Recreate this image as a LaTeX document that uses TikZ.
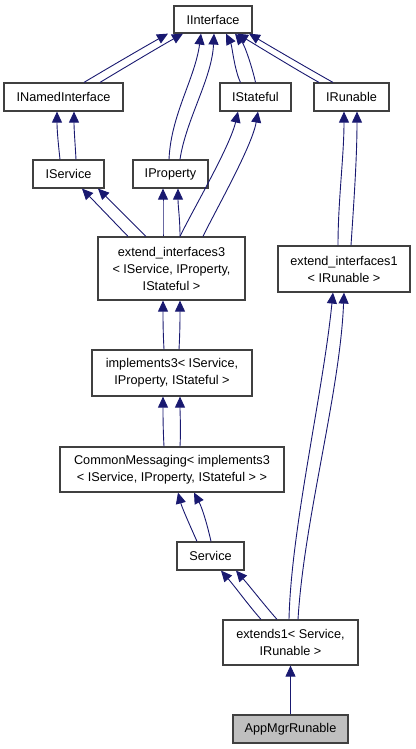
\documentclass[tikz,border=0pt]{standalone}
\usepackage{fontspec}
\setmainfont{Liberation Sans}
\usetikzlibrary{arrows.meta}
\definecolor{edgeblue}{RGB}{25,25,112}
\definecolor{boxline}{RGB}{64,64,64}
\definecolor{curfill}{RGB}{191,191,191}

\begin{document}
\begin{tikzpicture}[x=1pt, y=1pt,
        cls/.style={draw=boxline, fill=white, line width=1.2pt, inner sep=0pt, align=center,
                    minimum height=28pt, font=\fontsize{12.7}{17}\selectfont},
        cur/.style={cls, fill=curfill},
        inh/.style={edgeblue, line width=0.9pt, -{Triangle[length=11pt, width=10pt]}}]
        \useasboundingbox (0,0) rectangle (415,-749);

        \node[cls, minimum width=78pt, minimum height=27pt] (iface) at (213,-19.5) {IInterface};
        \node[cls, minimum width=119pt] (named) at (63.5,-97) {INamedInterface};
        \node[cls, minimum width=71pt] (stateful) at (255.5,-97) {IStateful};
        \node[cls, minimum width=75pt] (runable) at (351.5,-97) {IRunable};
        \node[cls, minimum width=71pt] (iservice) at (68.5,-174) {IService};
        \node[cls, minimum width=75pt] (property) at (170.5,-174) {IProperty};
        \node[cls, minimum width=147pt, minimum height=63pt] (ext3) at (171.5,-268.5) {extend\_interfaces3\\< IService, IProperty,\\IStateful >};
        \node[cls, minimum width=132pt, minimum height=46pt] (ext1) at (344,-269) {extend\_interfaces1\\< IRunable >};
        \node[cls, minimum width=160pt, minimum height=46pt] (impl3) at (172,-373) {implements3< IService,\\IProperty, IStateful >};
        \node[cls, minimum width=224pt, minimum height=45pt] (common) at (172,-469.5) {CommonMessaging< implements3\\< IService, IProperty, IStateful > >};
        \node[cls, minimum width=67pt] (service) at (210.5,-556) {Service};
        \node[cls, minimum width=135pt, minimum height=45pt] (extends1) at (290.5,-642.5) {extends1< Service,\\IRunable >};
        \node[cur, minimum width=115pt] (app) at (290.5,-729) {AppMgrRunable};

        % first level
        \draw[inh] ([xshift=20.5]named.north) .. controls +(20,12) and +(-25,-14) .. ([xshift=-45]iface.south);
        \draw[inh] ([xshift=36.5]named.north) .. controls +(20,12) and +(-25,-14) .. ([xshift=-30]iface.south);
        \draw[inh] ([xshift=-1.5]property.north) .. controls +(2,45) and +(-6,-45) .. ([xshift=-12]iface.south);
        \draw[inh] ([xshift=9.5]property.north) .. controls +(6,40) and +(-2,-45) .. ([xshift=1]iface.south);
        \draw[inh] ([xshift=-15]stateful.north) .. controls +(-6,12) and +(6,-12) .. ([xshift=13]iface.south);
        \draw[inh] ([xshift=0]stateful.north) .. controls +(-3,14) and +(10,-12) .. ([xshift=22]iface.south);
        \draw[inh] ([xshift=-32.5]runable.north) .. controls +(-25,14) and +(20,-12) .. ([xshift=24]iface.south);
        \draw[inh] ([xshift=-18.5]runable.north) .. controls +(-25,14) and +(20,-12) .. ([xshift=36]iface.south);

        % second level
        \draw[inh] ([xshift=-8.5]iservice.north) .. controls +(-2,18) and +(0,-18) .. ([xshift=-6.5]named.south);
        \draw[inh] ([xshift=7.5]iservice.north) .. controls +(-1,18) and +(0,-18) .. ([xshift=10.5]named.south);
        \draw[inh] ([xshift=-6]ext1.north) .. controls +(0,45) and +(0,-45) .. ([xshift=-7.5]runable.south);
        \draw[inh] ([xshift=7]ext1.north) .. controls +(3,45) and +(0,-45) .. ([xshift=5.5]runable.south);

        % extend_interfaces3
        \draw[inh] ([xshift=-43.5]ext3.north) -- ([xshift=13.5]iservice.south);
        \draw[inh] ([xshift=-25.5]ext3.north) -- ([xshift=29.5]iservice.south);
        \draw[inh] ([xshift=-8.5]ext3.north) .. controls +(0,18) and +(0,-18) .. ([xshift=-7.5]property.south);
        \draw[inh] ([xshift=8.5]ext3.north) .. controls +(0,18) and +(0,-18) .. ([xshift=7.5]property.south);
        \draw[inh] ([xshift=8.5]ext3.north) .. controls +(12,25) and +(-8,-35) .. ([xshift=-17.5]stateful.south);
        \draw[inh] ([xshift=31.5]ext3.north) .. controls +(12,25) and +(-6,-35) .. ([xshift=2.5]stateful.south);

        % chain down
        \draw[inh] ([xshift=-8]impl3.north) .. controls +(-1,18) and +(0,-18) .. ([xshift=-8.5]ext3.south);
        \draw[inh] ([xshift=7]impl3.north) .. controls +(1,18) and +(0,-18) .. ([xshift=8.5]ext3.south);
        \draw[inh] ([xshift=-8]common.north) .. controls +(-1,18) and +(0,-18) .. ([xshift=-9]impl3.south);
        \draw[inh] ([xshift=8]common.north) .. controls +(1,18) and +(0,-18) .. ([xshift=8]impl3.south);
        \draw[inh] ([xshift=-13.5]service.north) .. controls +(-8,18) and +(4,-15) .. ([xshift=6]common.south);
        \draw[inh] ([xshift=0.5]service.north) .. controls +(-4,18) and +(8,-15) .. ([xshift=22]common.south);
        \draw[inh] ([xshift=-29.5]extends1.north) .. controls +(-14,16) and +(14,-16) .. ([xshift=10.5]service.south);
        \draw[inh] ([xshift=-13.5]extends1.north) .. controls +(-14,16) and +(14,-16) .. ([xshift=25.5]service.south);
        \draw[inh] ([xshift=-1.5]extends1.north) .. controls +(2,90) and +(-10,-100) .. ([xshift=-11]ext1.south);
        \draw[inh] ([xshift=7.5]extends1.north) .. controls +(6,100) and +(-4,-100) .. ([xshift=0]ext1.south);
        \draw[inh] (app) -- (extends1);
\end{tikzpicture}
\end{document}
